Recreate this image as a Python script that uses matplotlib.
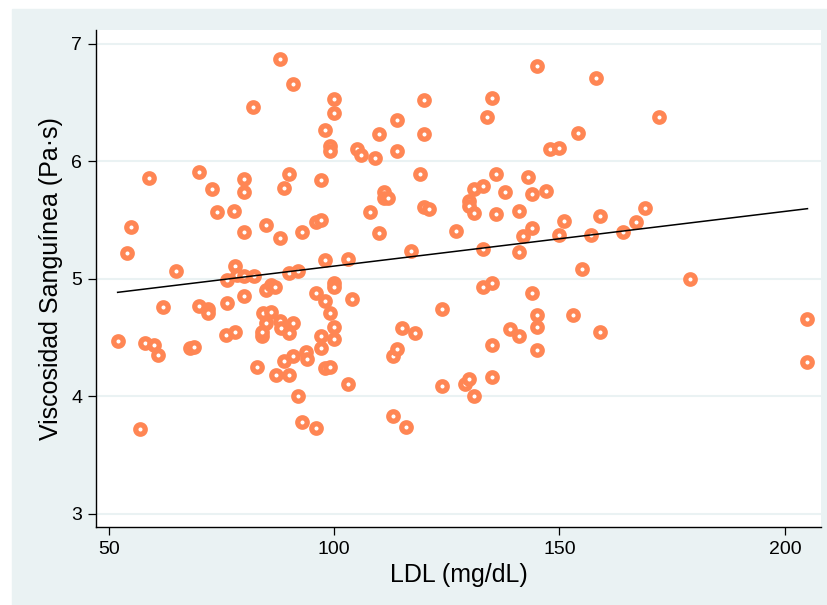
import numpy as np
import matplotlib
matplotlib.use('Agg')
import matplotlib.pyplot as plt
from matplotlib.patches import Rectangle

# Data
ldl = [52, 54, 55, 57, 58, 59, 60, 61, 62, 65, 68, 69, 70, 70, 72, 72, 73, 74,
       76, 76.3, 76.3, 77.8, 78, 78, 78.5, 80, 80, 80, 80, 80, 82, 82.2, 83,
       84, 84, 84.2, 85, 85, 85, 86, 86, 87, 87.2, 88, 88, 88, 88.2, 89, 89,
       90, 90, 90, 90, 91, 91, 90.8, 92, 92, 93, 93, 93.8, 94, 96, 96, 96, 97,
       97, 97, 97, 98, 98, 98, 98, 99, 99, 99, 99, 100, 100, 100, 100, 100, 100,
       103, 103, 104, 105, 106, 108, 109, 110, 110, 111, 111, 112, 113, 113,
       114, 114, 114, 115, 116, 117, 118, 119, 120, 120, 120, 121, 124, 124,
       127, 129, 130, 130, 130, 131, 131, 131, 133, 133, 133, 134, 135, 135,
       135, 135, 136, 136, 138, 139, 141, 141, 141, 142, 143, 144, 144, 144,
       145, 145, 145, 145, 147, 148, 150, 150, 151, 153, 154, 155, 157, 158,
       159, 159, 164, 167, 169, 172, 179, 205, 205]
visc = [4.47, 5.22, 5.44, 3.72, 4.45, 5.86, 4.44, 4.35, 4.76, 5.07, 4.41, 4.42,
        5.91, 4.77, 4.74, 4.71, 5.76, 5.57, 4.52, 4.99, 4.79, 5.58, 5.11, 4.55,
        5.03, 5.85, 5.74, 5.40, 4.85, 5.02, 6.46, 5.02, 4.25, 4.51, 4.55, 4.71,
        5.46, 4.90, 4.62, 4.72, 4.95, 4.93, 4.18, 6.87, 5.35, 4.64, 4.58, 5.77,
        4.30, 5.89, 5.05, 4.54, 4.18, 6.66, 4.62, 4.34, 5.07, 4.00, 5.40, 3.78,
        4.38, 4.32, 3.73, 5.48, 4.88, 5.84, 5.50, 4.51, 4.41, 6.27, 5.16, 4.81,
        4.24, 6.13, 6.09, 4.71, 4.25, 6.53, 6.41, 4.96, 4.93, 4.59, 4.49, 5.17,
        4.10, 4.83, 6.10, 6.05, 5.57, 6.03, 6.23, 5.39, 5.74, 5.69, 5.69, 3.83,
        4.34, 6.09, 6.35, 4.40, 4.58, 3.74, 5.24, 4.54, 5.89, 6.52, 6.23, 5.61,
        5.59, 4.09, 4.74, 5.41, 4.10, 5.66, 4.15, 5.62, 4.00, 5.76, 5.56, 5.79,
        5.25, 4.93, 6.38, 4.96, 6.54, 4.44, 4.16, 5.89, 5.55, 5.74, 4.57, 5.58,
        5.23, 4.51, 5.36, 5.87, 5.43, 5.72, 4.88, 6.81, 4.69, 4.59, 4.39, 5.75,
        6.10, 6.11, 5.37, 5.49, 4.69, 6.24, 5.08, 5.37, 6.71, 5.53, 4.55, 5.40,
        5.48, 5.60, 6.38, 5.00, 4.66, 4.29]

x_ticks = [50, 100, 150, 200]
y_ticks = [3, 4, 5, 6, 7]

bg_color = '#EAF2F3'
marker_color = '#FF8654'

plt.rcParams['font.family'] = ['Liberation Sans', 'DejaVu Sans']

fig = plt.figure(figsize=(8.27, 6.05), dpi=100)
fig.patch.set_facecolor('white')
# Stata-like outer background, offset slightly from the top-left corner
fig.patches.append(Rectangle((12 / 827, 0), 1, (605 - 9) / 605,
                             transform=fig.transFigure, color=bg_color, zorder=-10))

ax = fig.add_axes([96 / 827, 78 / 605, 725 / 827, 497 / 605])
ax.set_zorder(5)
ax.set_facecolor('white')

x = np.array(ldl)
y = np.array(visc)

ax.plot(x, y, linestyle='none', marker='o', markersize=6.8,
        markeredgewidth=3.8, markerfacecolor='white',
        markeredgecolor=marker_color, zorder=3)

# Linear fit
slope, intercept = np.polyfit(x, y, 1)
xf = np.array([x.min(), x.max()])
ax.plot(xf, intercept + slope * xf, color='black', linewidth=1.1, zorder=4)

ax.set_xlim(47.2, 208)
ax.set_ylim(2.887, 7.117)
ax.set_xticks(x_ticks)
ax.set_yticks(y_ticks)
ax.grid(axis='y', color=bg_color, linewidth=1.5, zorder=0)
ax.set_axisbelow(True)

for side in ['top', 'right']:
    ax.spines[side].set_visible(False)
for side in ['left', 'bottom']:
    ax.spines[side].set_linewidth(1.0)

ax.tick_params(axis='both', length=6, width=0.9, labelsize=14, pad=4)
ax.set_xlabel('LDL (mg/dL)', fontsize=18, labelpad=4)
ax.set_ylabel('Viscosidad Sanguínea (Pa·s)', fontsize=18, labelpad=6)

fig.savefig('out.png', dpi=100)
